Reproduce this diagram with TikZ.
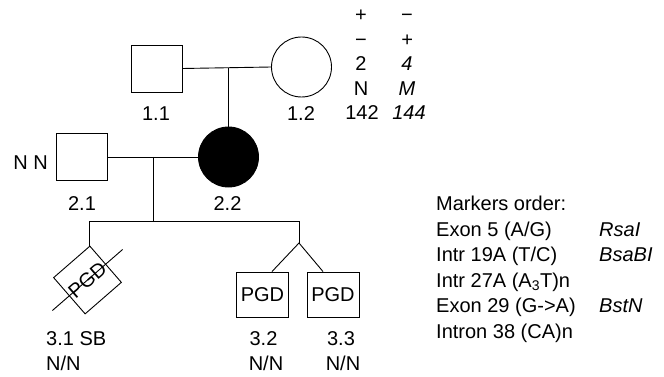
\documentclass[tikz,border=0pt]{standalone}
\usepackage{fontspec}
\setmainfont{Liberation Sans}
\usetikzlibrary{calc}
\newcommand{\pedfont}{\fontsize{20}{24}\selectfont}
\tikzset{
  male/.style={rectangle, draw, minimum width=51pt, minimum height=47pt,
    inner sep=0pt, line width=0.9pt},
  female/.style={circle, draw, minimum size=60pt, inner sep=0pt, line width=0.9pt},
  affected/.style={female, fill=black},
  pgdbox/.style={rectangle, draw, minimum width=52pt, minimum height=45pt,
    inner sep=0pt, line width=0.9pt, font=\pedfont},
  lab/.style={font=\pedfont, inner sep=0pt, anchor=base},
  marker/.style={font=\pedfont, inner sep=0pt, anchor=base west},
  line/.style={line width=0.9pt}
}

\begin{document}
\begin{tikzpicture}[x=1pt, y=-1pt]
  \useasboundingbox (0,0) rectangle (664,377);
  % Generation I
  \node[male] (m11) at (156.5,68.5) {};
  \node[female] (f12) at (301.5,67) {};
  \node[lab] (l11) at (156,121) {1.1};
  \node[lab] (l12) at (301,121) {1.2};
  \coordinate (u1) at (228.5,68.5);
  \draw[line] (m11.east) -- (f12.west);

  % Genotypes of 1.2
  \node[lab] (g1a) at (361,22) {+};
  \node[lab] (g2a) at (361,46.5) {−};
  \node[lab] (g3a) at (361,71) {2};
  \node[lab] (g4a) at (361,95.5) {N};
  \node[lab] (g5a) at (362,120) {142};
  \node[lab] (g1b) at (407,22) {−};
  \node[lab] (g2b) at (407,46.5) {\itshape +};
  \node[lab] (g3b) at (407,71) {\itshape 4};
  \node[lab] (g4b) at (407,95.5) {\itshape M};
  \node[lab] (g5b) at (409,120) {\itshape 144};

  % Generation II
  \node[male] (m21) at (82,157) {};
  \node[affected] (f22) at (228.5,157) {};
  \node[lab] (nn) at (30.5,170) {N N};
  \node[lab] (l21) at (82,210) {2.1};
  \node[lab] (l22) at (227.5,210) {2.2};
  \draw[line] (u1) -- (f22.north);
  \draw[line] (m21.east) -- (f22.west);

  % Generation III
  \coordinate (u2) at (153,157);
  \coordinate (s2) at (153,221);
  \coordinate (tw) at (299,243);
  \node[pgdbox, minimum width=48pt, minimum height=48pt, rotate=41] (c31) at (87.5,280) {PGD};
  \node[pgdbox] (c32) at (262.5,294.5) {PGD};
  \node[pgdbox] (c33) at (333,294.5) {PGD};
  \draw[line] (u2) -- (s2);
  \draw[line] (c31.north east) |- (tw |- s2) -- (tw);
  \draw[line] ($(c32.north)+(9.5,0)$) -- (tw) -- ($(c33.north)+(-10,0)$);
  \draw[line] ($(c31.west)!-0.45!(c31.east)$) -- ($(c31.east)!-0.45!(c31.west)$);
  \node[marker] (l31) at (46,345) {3.1 SB};
  \node[marker] (n31) at (46,370) {N/N};
  \node[lab] (l32) at (263.5,345) {3.2};
  \node[lab] (n32) at (266,370) {N/N};
  \node[lab] (l33) at (341,345) {3.3};
  \node[lab] (n33) at (343,370) {N/N};

  % Markers order
  \node[marker] (mk0) at (436,210.5) {Markers order:};
  \node[marker] (mk1) at (436,236) {Exon 5 (A/G)};
  \node[marker] (mk2) at (436,261.5) {Intr 19A (T/C)};
  \node[marker] (mk3) at (436,287) {Intr 27A (A\textsubscript{3}T)n};
  \node[marker] (mk4) at (436,312) {Exon 29 (G->A)};
  \node[marker] (mk5) at (436,338) {Intron 38 (CA)n};
  \node[marker, font=\pedfont\itshape] (en1) at (599,236) {RsaI};
  \node[marker, font=\pedfont\itshape] (en2) at (599,261.5) {BsaBI};
  \node[marker, font=\pedfont\itshape] (en4) at (599,312) {BstN};
\end{tikzpicture}
\end{document}
